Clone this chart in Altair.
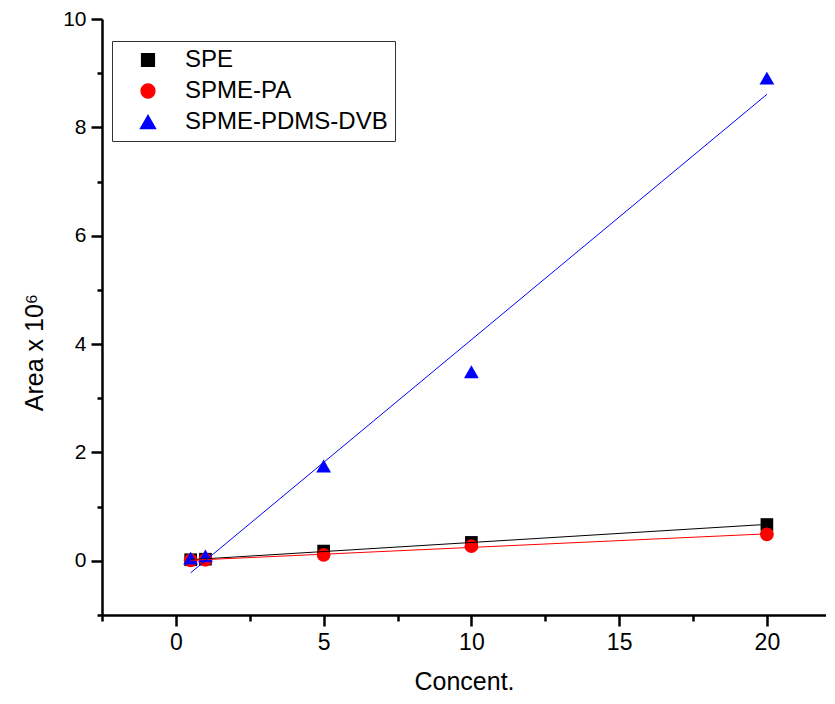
import altair as alt
import pandas as pd

series_names = ["SPE", "SPME-PA", "SPME-PDMS-DVB"]
conc = [0.5, 1, 5, 10, 20]
spe = [0.02, 0.03, 0.18, 0.34, 0.67]
spme_pa = [0.01, 0.02, 0.11, 0.27, 0.49]
spme_dvb = [0.05, 0.09, 1.75, 3.49, 8.91]
colors = ["#000000", "#ff0000", "#0000ff"]
shapes = ["square", "circle", "triangle-up"]
sizes = [160, 220, 360]

rows = []
for name, vals in zip(series_names, [spe, spme_pa, spme_dvb]):
    for x, y in zip(conc, vals):
        rows.append({"series": name, "x": x, "y": y})
df = pd.DataFrame(rows)

FONT = "Liberation Sans"
xscale = alt.Scale(domain=[-2.5, 22.0], nice=False, zero=False)
yscale = alt.Scale(domain=[-1, 10], nice=False, zero=False)

xaxis = alt.Axis(
    title="Concent.",
    values=[-2.5, 0, 2.5, 5, 7.5, 10, 12.5, 15, 17.5, 20],
    labelExpr="datum.value % 5 === 0 ? datum.label : ''",
    tickSize={"condition": {"test": "datum.value % 5 === 0", "value": 11}, "value": 6},
    grid=False,
    domainColor="black", domainWidth=2.5, tickColor="black", tickWidth=2.5,
    labelFontSize=23, labelFont=FONT, labelColor="black", labelPadding=5,
    titleFontSize=25, titleFont=FONT, titleFontWeight="normal", titleColor="black",
    titlePadding=15,
)
yaxis = alt.Axis(
    title="Area x 10⁶",
    values=list(range(-1, 11)),
    labelExpr="datum.value % 2 === 0 ? datum.label : ''",
    tickSize={"condition": {"test": "datum.value % 2 === 0", "value": 11}, "value": 5},
    grid=False,
    domainColor="black", domainWidth=2.5, tickColor="black", tickWidth=2.5,
    labelFontSize=21, labelFont=FONT, labelColor="black", labelPadding=5,
    titleFontSize=25, titleFont=FONT, titleFontWeight="normal", titleColor="black",
    titlePadding=15, titleY=333,
)

base = alt.Chart(df)

points = base.mark_point(filled=True, opacity=1).encode(
    x=alt.X("x:Q", scale=xscale, axis=xaxis),
    y=alt.Y("y:Q", scale=yscale, axis=yaxis),
    color=alt.Color("series:N", scale=alt.Scale(domain=series_names, range=colors),
                    legend=alt.Legend(title=None)),
    shape=alt.Shape("series:N", scale=alt.Scale(domain=series_names, range=shapes),
                    legend=alt.Legend(title=None)),
    size=alt.Size("series:N", scale=alt.Scale(domain=series_names, range=sizes),
                  legend=alt.Legend(title=None)),
    order=alt.Order("series:N"),
)

lines = base.transform_regression("x", "y", groupby=["series"]).mark_line(strokeWidth=1).encode(
    x=alt.X("x:Q", scale=xscale),
    y=alt.Y("y:Q", scale=yscale),
    stroke=alt.Stroke("series:N", scale=alt.Scale(domain=series_names, range=colors), legend=None),
)

chart = alt.layer(points, lines).properties(
    width=724, height=596,
    autosize=alt.AutoSizeParams(type="none"),
    padding={"left": 94, "top": 11, "right": 0, "bottom": 81},
).configure_view(stroke=None).configure_legend(
    orient="none", legendX=10, legendY=22,
    strokeColor="#333333", strokeWidth=1, fillColor="white",
    padding=7, labelFontSize=24, labelFont=FONT, labelColor="black",
    labelOffset=25, symbolOffset=17, rowPadding=7, cornerRadius=0,
    labelLimit=400,
)

chart.save("out.html", embed_options={"renderer": "svg", "actions": False})
